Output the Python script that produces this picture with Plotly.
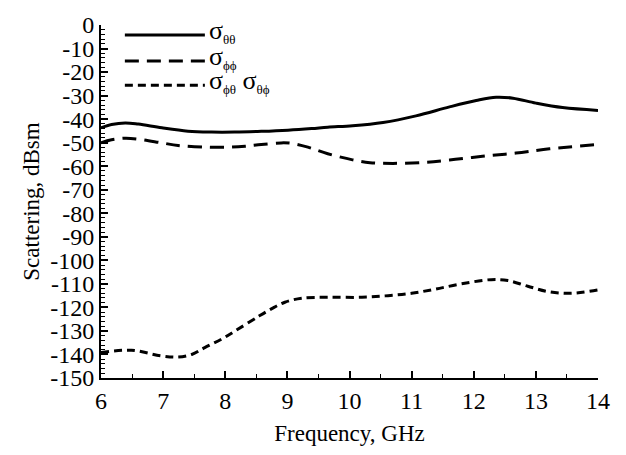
import plotly.graph_objects as go

# Co-polarised and cross-polarised scattering versus frequency
freq_tt = [6.0, 6.17, 6.39, 6.6, 6.98, 7.4, 7.78, 8.15, 8.58, 9.01, 9.39, 9.65,
           10.05, 10.54, 11.07, 11.61, 12.04, 12.36, 12.63, 13.0, 13.43, 14.0]
sigma_tt = [-43.7, -42.3, -41.6, -42.1, -43.7, -45.1, -45.5, -45.5, -45.2, -44.7, -44.0, -43.4,
            -42.8, -41.4, -38.6, -34.8, -32.1, -30.7, -31.1, -33.2, -35.1, -36.3]

freq_pp = [6.0, 6.17, 6.39, 6.6, 6.98, 7.24, 7.67, 8.05, 8.32, 8.58, 8.9, 9.07, 9.33, 9.65,
           10.05, 10.33, 10.7, 11.18, 11.61, 12.14, 12.68, 13.22, 14.0]
sigma_pp = [-50.1, -48.8, -48.1, -48.5, -50.1, -51.2, -51.9, -51.9, -51.5, -50.8, -50.1, -50.3, -51.9, -54.7,
            -57.3, -58.5, -58.8, -58.4, -57.4, -55.8, -54.4, -52.6, -50.8]

freq_x = [6.0, 6.49, 6.97, 7.24, 7.46, 7.67, 7.94, 8.16, 8.53, 8.75, 8.96, 9.23, 9.66, 10.2,
          10.62, 11.0, 11.37, 11.8, 12.28, 12.55, 12.87, 13.2, 13.57, 14.0]
sigma_x = [-139.2, -138.2, -140.6, -141.1, -140.0, -137.1, -133.5, -130.0, -123.9, -120.5, -117.8, -116.1, -115.7, -115.7,
           -115.0, -114.0, -112.3, -110.0, -108.2, -108.6, -111.0, -113.3, -114.0, -112.6]

x_ticks = [6, 7, 8, 9, 10, 11, 12, 13, 14]
y_ticks = list(range(0, -151, -10))
y_tick_text = [str(v) if v == 0 else "-" + str(-v) for v in y_ticks]

SUB = "<sub><span style='font-size:13px'>{}</span></sub>"
legend_labels = [
    "σ" + SUB.format("θθ"),
    "σ" + SUB.format("ϕϕ"),
    "σ" + SUB.format("ϕθ") + " σ" + SUB.format("θϕ"),
]
dash_styles = ["solid", "14px,8px", "8px,5px"]

FONT = "Liberation Serif, Times New Roman, serif"

fig = go.Figure()
series = [(freq_tt, sigma_tt), (freq_pp, sigma_pp), (freq_x, sigma_x)]
for (fx, fy), dash in zip(series, dash_styles):
    fig.add_trace(go.Scatter(
        x=fx, y=fy, mode="lines",
        line=dict(color="black", width=3, dash=dash, shape="spline", smoothing=1.0),
        showlegend=False, hoverinfo="skip",
    ))

# Hand-drawn legend keys in the upper-left corner of the plot area
legend_y = [0.972, 0.898, 0.829]
for label, dash, ly in zip(legend_labels, dash_styles, legend_y):
    fig.add_shape(type="line", xref="paper", yref="paper",
                  x0=0.048, x1=0.209, y0=ly, y1=ly,
                  line=dict(color="black", width=3, dash=dash))
    fig.add_annotation(xref="paper", yref="paper", x=0.213, y=ly + 0.010,
                       xanchor="left", yanchor="middle", showarrow=False,
                       text=label, font=dict(family=FONT, size=26, color="black"))

fig.update_layout(
    width=626, height=455,
    margin=dict(l=101, r=28, t=15, b=77),
    paper_bgcolor="white", plot_bgcolor="white",
    font=dict(family=FONT, color="black"),
)
fig.update_xaxes(
    range=[6, 14], tickvals=x_ticks, ticks="inside", ticklen=7, tickwidth=1.5,
    tickcolor="black", showline=True, linecolor="black", linewidth=2, mirror=False,
    showgrid=False, zeroline=False,
    tickfont=dict(family=FONT, size=24, color="black"),
    minor=dict(dtick=0.5, ticks="inside", ticklen=4, tickwidth=1.2, tickcolor="black"),
    title=dict(text="Frequency, GHz", font=dict(family=FONT, size=23, color="black"), standoff=12),
)
fig.update_yaxes(
    range=[-150, 0], tickvals=y_ticks, ticktext=y_tick_text, ticks="inside", ticklen=7,
    tickwidth=1.5, tickcolor="black", showline=True, linecolor="black", linewidth=2,
    mirror=False, showgrid=False, zeroline=False,
    tickfont=dict(family=FONT, size=24, color="black"),
    minor=dict(dtick=2, ticks="inside", ticklen=4, tickwidth=1, tickcolor="black"),
    title=dict(text="Scattering, dBsm", font=dict(family=FONT, size=23, color="black"), standoff=4),
)

fig.write_html("out.html")
